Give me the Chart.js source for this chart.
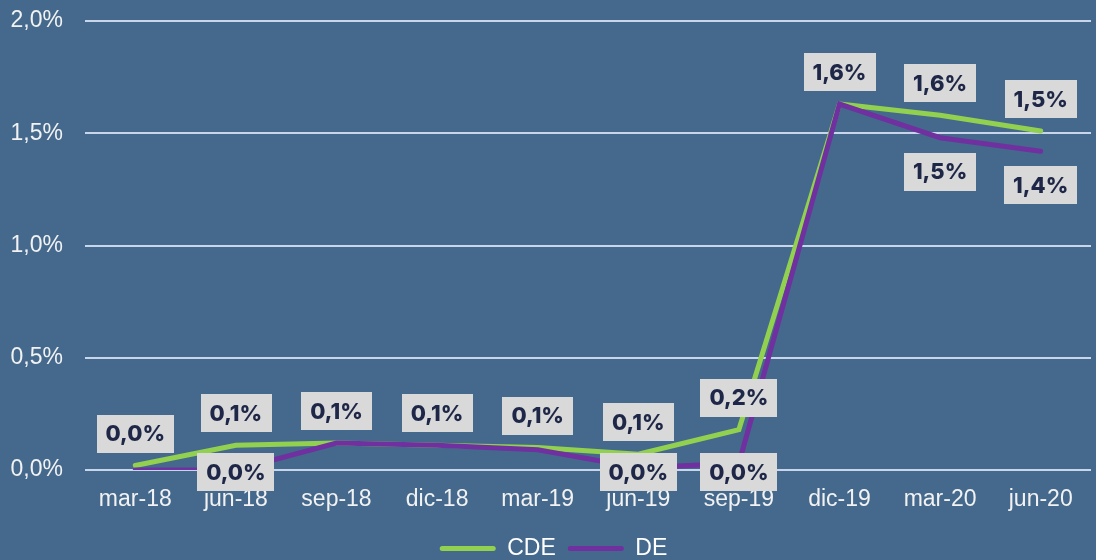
<!DOCTYPE html>
<html>
<head>
<meta charset="utf-8">
<script src="https://cdn.jsdelivr.net/npm/chart.js@4"></script>
<style>
  html, body { margin: 0; padding: 0; background: #44698c; }
  #wrap { width: 1096px; height: 560px; }
</style>
</head>
<body>
<div id="wrap"><canvas id="c" width="1096" height="560"></canvas></div>
<script>
const categories = ['mar-18', 'jun-18', 'sep-18', 'dic-18', 'mar-19', 'jun-19', 'sep-19', 'dic-19', 'mar-20', 'jun-20'];
const cdeValues = [0.02, 0.11, 0.12, 0.11, 0.10, 0.07, 0.18, 1.63, 1.58, 1.51];
const deValues  = [0.00, 0.00, 0.12, 0.11, 0.09, 0.01, 0.03, 1.63, 1.48, 1.42];
const seriesNames = ['CDE', 'DE'];
const yTicks = [0, 0.5, 1.0, 1.5, 2.0];

const BG = '#44698c';
const GREEN = '#92d050';
const PURPLE = '#7030a0';
const fmt = v => v.toFixed(1).replace('.', ',') + '%';

const bgPlugin = {
  id: 'bg',
  beforeDraw(chart) {
    const ctx = chart.ctx;
    ctx.save();
    ctx.fillStyle = BG;
    ctx.fillRect(0, 0, chart.width, chart.height);
    ctx.restore();
  },
  afterLayout(chart) {
    const lg = chart.legend;
    if (lg) { lg.left += 8; lg.right += 8; lg.top += 10; lg.bottom += 10; }
  }
};

const labelPlugin = {
  id: 'boxLabels',
  afterDatasetsDraw(chart) {
    const ctx = chart.ctx;
    const area = chart.chartArea;
    ctx.save();
    ctx.font = '800 22px Inter, "Open Sans", sans-serif';
    ctx.textAlign = 'center';
    ctx.textBaseline = 'middle';
    const draw = (x, cy, text) => {
      const w = ctx.measureText(text).width + 18;
      const h = 38;
      ctx.fillStyle = '#d9d9d9';
      ctx.fillRect(Math.round(x - w / 2), Math.round(cy - h / 2), Math.round(w), h);
      ctx.fillStyle = '#1e2747';
      ctx.fillText(text, x, cy + 1);
    };
    const m0 = chart.getDatasetMeta(0);
    const m1 = chart.getDatasetMeta(1);
    cdeValues.forEach((v, i) => {
      const p = m0.data[i];
      draw(p.x, p.y - 32, fmt(v));
    });
    deValues.forEach((v, i) => {
      if (fmt(v) === fmt(cdeValues[i])) return;
      const p = m1.data[i];
      const cy = Math.min(p.y + 34, area.bottom + 2);
      draw(p.x, cy, fmt(v));
    });
    ctx.restore();
  }
};

new Chart(document.getElementById('c'), {
  type: 'line',
  data: {
    labels: categories,
    datasets: [
      { label: seriesNames[0], data: cdeValues, borderColor: GREEN, backgroundColor: GREEN, borderWidth: 5, pointRadius: 0, tension: 0, order: 1, borderCapStyle: 'round' },
      { label: seriesNames[1], data: deValues, borderColor: PURPLE, backgroundColor: PURPLE, borderWidth: 5, pointRadius: 0, tension: 0, order: 0, borderCapStyle: 'round' }
    ]
  },
  options: {
    responsive: false,
    animation: false,
    layout: { padding: { top: 21, right: 5, left: 0, bottom: 0 } },
    plugins: {
      tooltip: { enabled: false },
      legend: {
        position: 'bottom',
        labels: {
          color: '#ffffff',
          font: { size: 23, family: '"Liberation Sans", Arial, sans-serif' },
          boxWidth: 56,
          boxHeight: 5,
          padding: 12,
          useBorderRadius: true,
          generateLabels(chart) {
            return chart.data.datasets.map((d, i) => ({
              text: d.label, fillStyle: d.borderColor, strokeStyle: d.borderColor,
              lineWidth: 0, datasetIndex: i, fontColor: '#ffffff', hidden: false, borderRadius: 2.5
            }));
          }
        }
      }
    },
    scales: {
      x: {
        offset: true,
        afterFit(scale) { scale.height = 45; },
        grid: { display: false, drawTicks: false },
        border: { display: false },
        ticks: { color: '#f2f2f2', font: { size: 23, family: '"Liberation Sans", Arial, sans-serif' }, padding: 16, maxRotation: 0, autoSkip: false }
      },
      y: {
        min: 0, max: 2.0,
        afterFit(scale) { scale.width = 85; scale.paddingTop = 0; scale.paddingBottom = 0; },
        afterBuildTicks(scale) { scale.ticks = yTicks.map(v => ({ value: v })); },
        grid: { color: '#c8d5ea', lineWidth: 2, drawTicks: false },
        border: { display: false },
        ticks: { color: '#f2f2f2', font: { size: 23, family: '"Liberation Sans", Arial, sans-serif' }, padding: 22, callback: v => fmt(v) }
      }
    }
  },
  plugins: [bgPlugin, labelPlugin]
});
</script>
</body>
</html>
